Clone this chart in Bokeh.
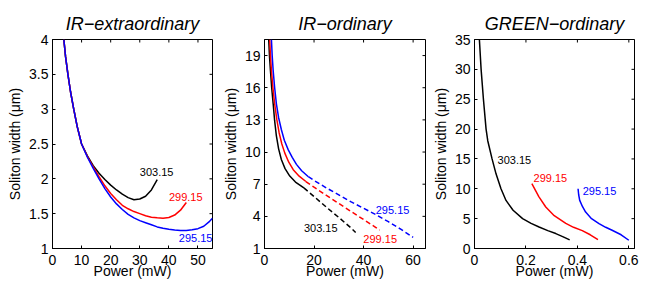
import math
from bokeh.plotting import figure
from bokeh.layouts import row
from bokeh.models import Range1d, FixedTicker, CustomJSTickFormatter, Label
from bokeh.embed import file_html
from bokeh.resources import INLINE

FONT = "Liberation Sans"

# ---------------- data: IR-extraordinary (Power mW, width um) ----------------
ie_p_303 = [3.9, 4.5, 5.3, 6.2, 7.3, 8.5, 10, 12, 14, 16, 18, 20, 22, 24, 26, 28, 30, 32, 34, 36]
ie_w_303 = [4.0, 3.75, 3.5, 3.25, 3.0, 2.75, 2.5, 2.33, 2.19, 2.08, 1.99, 1.91, 1.84, 1.78, 1.73, 1.70, 1.71, 1.75, 1.84, 1.99]
ie_p_299 = [3.9, 4.5, 5.3, 6.2, 7.3, 8.5, 10, 12, 14, 16, 18, 20, 22, 24, 26, 28, 30, 32, 34, 36, 38, 40, 42, 44, 46]
ie_w_299 = [4.0, 3.75, 3.5, 3.25, 3.0, 2.75, 2.5, 2.32, 2.17, 2.03, 1.90, 1.79, 1.70, 1.62, 1.57, 1.53, 1.50, 1.47, 1.45, 1.44, 1.435, 1.445, 1.48, 1.55, 1.66]
ie_p_295 = [3.9, 4.5, 5.3, 6.2, 7.3, 8.5, 10, 12, 14, 16, 18, 20, 22, 24, 26, 28, 30, 32, 34, 36, 38, 40, 42, 44, 46, 48, 50, 52, 54, 55]
ie_w_295 = [4.0, 3.75, 3.5, 3.25, 3.0, 2.75, 2.5, 2.31, 2.15, 2.00, 1.86, 1.74, 1.64, 1.56, 1.49, 1.44, 1.40, 1.37, 1.34, 1.31, 1.29, 1.275, 1.265, 1.26, 1.26, 1.27, 1.285, 1.32, 1.39, 1.435]

# ---------------- data: IR-ordinary (solid + dashed parts) ----------------
io_p_303_solid = [1.7, 2.0, 2.4, 2.9, 3.5, 4.1, 4.8, 5.7, 6.8, 8.3, 10.2, 12.5, 15.9]
io_w_303_solid = [20.5, 19.0, 17.6, 16.0, 14.5, 12.9, 11.5, 10.3, 9.3, 8.45, 7.76, 7.2, 6.65]
io_p_303_dash = [15.9, 20, 25, 30, 35, 36.8]
io_w_303_dash = [6.65, 5.85, 4.85, 3.9, 2.9, 2.5]
io_p_299_solid = [2.1, 2.4, 2.8, 3.4, 4.1, 5.0, 5.9, 7.0, 8.2, 9.8, 11.6, 14.0, 16.7]
io_w_299_solid = [20.5, 19.0, 17.6, 16.0, 14.5, 13.0, 11.8, 10.75, 9.9, 9.05, 8.35, 7.75, 7.25]
io_p_299_dash = [16.7, 20, 25, 30, 35, 40, 45, 46.5]
io_w_299_dash = [7.25, 6.72, 5.95, 5.2, 4.45, 3.7, 2.95, 2.72]
io_p_295_solid = [2.8, 3.1, 3.5, 4.1, 4.8, 5.7, 6.8, 8.0, 9.6, 11.2, 12.9, 15.0, 17.7]
io_w_295_solid = [20.5, 19.0, 17.6, 16.0, 14.5, 13.2, 12.1, 11.1, 10.2, 9.5, 8.85, 8.25, 7.7]
io_p_295_dash = [17.7, 20, 25, 30, 35, 40, 45, 50, 55, 60]
io_w_295_dash = [7.7, 7.35, 6.65, 6.0, 5.35, 4.75, 4.15, 3.5, 2.8, 2.04]

# ---------------- data: GREEN-ordinary ----------------
go_p_303 = [0.019, 0.0257, 0.0347, 0.045, 0.0515, 0.0683, 0.0837, 0.103, 0.1225, 0.15, 0.187, 0.22, 0.251, 0.285, 0.316, 0.345, 0.37]
go_w_303 = [35, 30, 25, 20, 18.05, 15, 12.5, 10, 8.05, 6.4, 5.0, 4.2, 3.6, 3.0, 2.5, 1.95, 1.45]
go_p_299 = [0.223, 0.25, 0.277, 0.31, 0.355, 0.385, 0.419, 0.45, 0.48]
go_w_299 = [10.85, 8.7, 6.95, 5.5, 4.2, 3.55, 3.0, 2.3, 1.5]
go_p_295 = [0.4026, 0.405, 0.409, 0.42, 0.432, 0.455, 0.484, 0.51, 0.535, 0.57, 0.60]
go_w_295 = [10.0, 9.0, 8.05, 7.0, 6.1, 5.0, 4.17, 3.55, 3.05, 2.3, 1.38]

temps = ["303.15", "299.15", "295.15"]
colors = ["black", "red", "blue"]

ie_xticks = [0, 10, 20, 30, 40, 50]
ie_yticks = [1, 1.5, 2, 2.5, 3, 3.5, 4]
io_xticks = [0, 20, 40, 60]
io_yticks = [1, 4, 7, 10, 13, 16, 19]
go_xticks = [0, 0.2, 0.4, 0.6]
go_yticks = [0, 5, 10, 15, 20, 25, 30, 35]

fmt_code = "return (Math.round(tick*1000)/1000).toString();"
TOP, FRAME_H, BOTTOM = 39, 209, 35


def make_fig(title, xr, yr, xticks, yticks, left, frame_w, right):
    p = figure(width=left + frame_w + right, height=TOP + FRAME_H + BOTTOM,
               x_range=Range1d(*xr), y_range=Range1d(*yr),
               output_backend="svg", toolbar_location=None,
               min_border_left=left, min_border_right=right,
               min_border_top=TOP, min_border_bottom=BOTTOM,
               title=title, x_axis_label="Power (mW)",
               y_axis_label="Soliton width (\u03bcm)")
    p.grid.visible = False
    p.outline_line_color = "black"
    p.outline_line_width = 1
    p.title.text_font = FONT
    p.title.text_font_size = "18px"
    p.title.text_font_style = "italic"
    p.title.align = "center"
    p.title.text_color = "black"
    p.title.standoff = 11
    for ax in p.axis:
        ax.major_tick_in = 3
        ax.major_tick_out = 0
        ax.minor_tick_in = 0
        ax.minor_tick_out = 0
        ax.axis_line_color = "black"
        ax.major_label_text_font = FONT
        ax.major_label_text_font_size = "14px"
        ax.major_label_text_color = "black"
        ax.axis_label_text_font = FONT
        ax.axis_label_text_font_size = "14px"
        ax.axis_label_text_font_style = "normal"
        ax.axis_label_text_color = "black"
        ax.formatter = CustomJSTickFormatter(code=fmt_code)
    p.xaxis.ticker = FixedTicker(ticks=xticks)
    p.yaxis.ticker = FixedTicker(ticks=yticks)
    p.xaxis.major_label_standoff = 6
    p.xaxis.axis_label_standoff = -5
    p.yaxis.major_label_standoff = 4
    p.yaxis.axis_label_standoff = 3
    # inward ticks on the top and right edges (box style)
    p.scatter(x=xticks, y=[yr[1]] * len(xticks), marker="dash", angle=math.pi / 2,
              size=6, line_color="black", line_width=1)
    p.scatter(x=[xr[1]] * len(yticks), y=yticks, marker="dash", angle=0,
              size=6, line_color="black", line_width=1)
    return p


def add_label(p, x, y, text, color):
    p.add_layout(Label(x=x, y=y, text=text, text_color=color, text_font=FONT,
                       text_font_size="11px", text_align="center",
                       text_baseline="middle"))


LW = 1.5

# Panel 1
p1 = make_fig("IR\u2212extraordinary", (0, 55), (1, 4), ie_xticks, ie_yticks, 52, 160, 6)
for xs, ys, c in ((ie_p_303, ie_w_303, colors[0]), (ie_p_299, ie_w_299, colors[1]), (ie_p_295, ie_w_295, colors[2])):
    p1.line(xs, ys, line_color=c, line_width=LW)
add_label(p1, 35.8, 2.095, temps[0], colors[0])
add_label(p1, 45.8, 1.74, temps[1], colors[1])
add_label(p1, 49.2, 1.15, temps[2], colors[2])

# Panel 2
p2 = make_fig("IR\u2212ordinary", (0, 65), (1, 20.5), io_xticks, io_yticks, 46, 161, 3)
for (xs, ys, xd, yd, c) in ((io_p_303_solid, io_w_303_solid, io_p_303_dash, io_w_303_dash, colors[0]),
                            (io_p_299_solid, io_w_299_solid, io_p_299_dash, io_w_299_dash, colors[1]),
                            (io_p_295_solid, io_w_295_solid, io_p_295_dash, io_w_295_dash, colors[2])):
    p2.line(xs, ys, line_color=c, line_width=LW)
    p2.line(xd, yd, line_color=c, line_width=LW, line_dash="5 3")
add_label(p2, 22.7, 2.95, temps[0], colors[0])
add_label(p2, 46.7, 1.85, temps[1], colors[1])
add_label(p2, 51.7, 4.55, temps[2], colors[2])

# Panel 3
p3 = make_fig("GREEN\u2212ordinary", (0, 0.622), (0, 35), go_xticks, go_yticks, 46, 160, 12)
for xs, ys, c in ((go_p_303, go_w_303, colors[0]), (go_p_299, go_w_299, colors[1]), (go_p_295, go_w_295, colors[2])):
    p3.line(xs, ys, line_color=c, line_width=LW)
add_label(p3, 0.155, 14.85, temps[0], colors[0])
add_label(p3, 0.295, 11.85, temps[1], colors[1])
add_label(p3, 0.486, 9.58, temps[2], colors[2])

layout = row(p1, p2, p3)
open("out.html", "w").write(file_html(layout, INLINE))
